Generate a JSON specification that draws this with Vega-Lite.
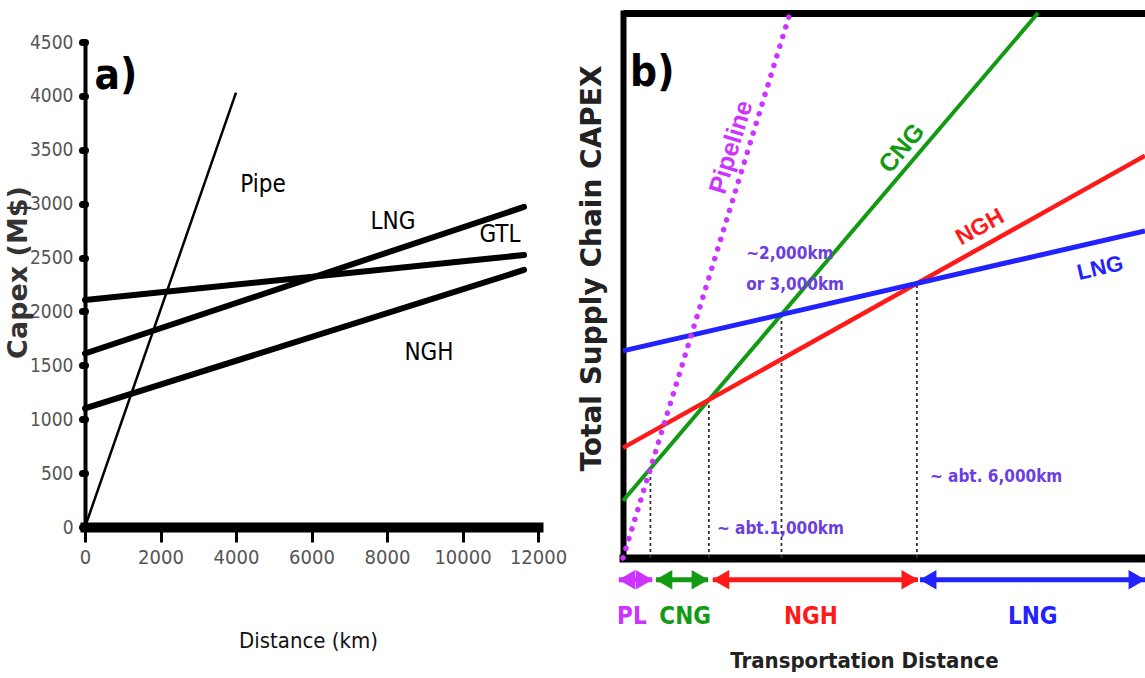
{
  "$schema": "https://vega.github.io/schema/vega-lite/v6.json",
  "width": 1145,
  "height": 678,
  "autosize": "none",
  "padding": 0,
  "background": "white",
  "config": {"view": {"stroke": null}, "axis": {"grid": false}},
  "datasets": {
    "linesA": [
      {"s": "Pipe", "x": 0, "y": 0}, {"s": "Pipe", "x": 4000, "y": 4030},
      {"s": "GTL", "x": 0, "y": 2106}, {"s": "GTL", "x": 11630, "y": 2524},
      {"s": "LNG", "x": 0, "y": 1610}, {"s": "LNG", "x": 11630, "y": 2970},
      {"s": "NGH", "x": 0, "y": 1100}, {"s": "NGH", "x": 11630, "y": 2385}
    ],
    "labelsA": [
      {"t": "Pipe", "x": 4715, "y": 3173},
      {"t": "LNG", "x": 8159, "y": 2830},
      {"t": "GTL", "x": 10993, "y": 2709},
      {"t": "NGH", "x": 9113, "y": 1614}
    ],
    "tagA": [{"t": "a)", "x": 820, "y": 4184}],
    "linesB": [
      {"s": "Pipeline", "x": 0, "y": 0}, {"s": "Pipeline", "x": 32.0, "y": 100},
      {"s": "CNG", "x": 0, "y": 10.5}, {"s": "CNG", "x": 79.5, "y": 100},
      {"s": "NGH", "x": 0, "y": 20.2}, {"s": "NGH", "x": 100, "y": 73.8},
      {"s": "LNG", "x": 0, "y": 38.0}, {"s": "LNG", "x": 100, "y": 60.0}
    ],
    "verticals": [
      {"x": 5.25, "y": 0, "top": 16.4},
      {"x": 16.45, "y": 0, "top": 29.0},
      {"x": 30.36, "y": 0, "top": 44.7},
      {"x": 56.3, "y": 0, "top": 50.4}
    ],
    "arrows": [
      {"s": "PL", "x": -0.8, "xe": 5.6, "y": -4},
      {"s": "CNG", "x": 6.3, "xe": 16.3, "y": -4},
      {"s": "NGH", "x": 17.2, "xe": 56.5, "y": -4},
      {"s": "LNG", "x": 56.9, "xe": 100, "y": -4}
    ],
    "bottomLabels": [
      {"s": "PL", "x": 1.7, "y": -10.8},
      {"s": "CNG", "x": 11.9, "y": -10.8},
      {"s": "NGH", "x": 36.0, "y": -10.8},
      {"s": "LNG", "x": 78.5, "y": -10.8}
    ],
    "notes": [
      {"t": "~2,000km", "x": 23.6, "y": 55.8},
      {"t": "or 3,000km", "x": 23.6, "y": 50.1},
      {"t": "~ abt.1,000km", "x": 18.0, "y": 5.3},
      {"t": "~ abt. 6,000km", "x": 58.8, "y": 14.9}
    ],
    "tagB": [{"t": "b)", "x": 5.6, "y": 89.0}]
  },
  "layer": [
    {
      "encoding": {
        "x": {
          "field": "x", "type": "quantitative",
          "scale": {"domain": [0, 12000], "range": [85, 538], "nice": false, "zero": false},
          "axis": {
            "orient": "bottom", "offset": -151,
            "values": [0, 2000, 4000, 6000, 8000, 10000, 12000], "format": "d",
            "domainWidth": 10, "domainColor": "black", "domainCap": "square",
            "tickColor": "black", "tickWidth": 3, "tickSize": 15,
            "labelFont": "DejaVu Sans Condensed, Liberation Sans Narrow, Liberation Sans, sans-serif", "labelFontSize": 20, "labelColor": "#555",
            "labelPadding": 5, "labelFlush": false, "labelOverlap": false,
            "title": "Distance (km)", "titleFont": "DejaVu Sans Condensed, Liberation Sans Narrow, Liberation Sans, sans-serif", "titleFontSize": 22,
            "titleFontWeight": "normal", "titleColor": "#111",
            "titleX": 308, "titleY": 113, "titleAlign": "center", "titleBaseline": "middle",
            "grid": false
          }
        },
        "y": {
          "field": "y", "type": "quantitative",
          "scale": {"domain": [0, 4500], "range": [527, 42], "nice": false, "zero": false},
          "axis": {
            "orient": "left", "offset": -85,
            "values": [0, 500, 1000, 1500, 2000, 2500, 3000, 3500, 4000, 4500], "format": "d",
            "domainWidth": 4, "domainColor": "black",
            "tickColor": "black", "tickWidth": 7, "tickSize": 3, "tickCap": "round",
            "labelFont": "DejaVu Sans Condensed, Liberation Sans Narrow, Liberation Sans, sans-serif", "labelFontSize": 19, "labelColor": "#555",
            "labelPadding": 9, "labelOverlap": false, "labelFlush": false,
            "title": "Capex (M$)", "titleFont": "DejaVu Sans", "titleFontSize": 27,
            "titleFontWeight": "bold", "titleColor": "#333",
            "titleX": -67, "titleY": 272, "titleAngle": 270, "titleAlign": "center", "titleBaseline": "middle",
            "grid": false
          }
        }
      },
      "layer": [
        {
          "data": {"name": "linesA"},
          "transform": [{"filter": "datum.s !== 'Pipe'"}],
          "mark": {"type": "line", "color": "black", "strokeWidth": 6, "strokeCap": "round"},
          "encoding": {"detail": {"field": "s"}}
        },
        {
          "data": {"name": "linesA"},
          "transform": [{"filter": "datum.s === 'Pipe'"}],
          "mark": {"type": "line", "color": "black", "strokeWidth": 2.5},
          "encoding": {"detail": {"field": "s"}}
        },
        {
          "data": {"name": "labelsA"},
          "mark": {"type": "text", "font": "DejaVu Sans Condensed, Liberation Sans Narrow, Liberation Sans, sans-serif", "fontSize": 24, "color": "black"},
          "encoding": {"text": {"field": "t"}}
        },
        {
          "data": {"name": "tagA"},
          "mark": {"type": "text", "font": "DejaVu Sans Condensed, Liberation Sans Narrow, Liberation Sans, sans-serif", "fontSize": 42, "fontWeight": "bold", "color": "black"},
          "encoding": {"text": {"field": "t"}}
        }
      ]
    },
    {
      "encoding": {
        "x": {
          "field": "x", "type": "quantitative",
          "scale": {"domain": [0, 100], "range": [623, 1145], "nice": false, "zero": false},
          "axis": {
            "orient": "bottom", "offset": -120,
            "domainWidth": 8, "domainColor": "black", "domainCap": "square",
            "ticks": false, "labels": false, "grid": false,
            "title": "Transportation Distance", "titleFont": "DejaVu Sans Condensed, Liberation Sans Narrow, Liberation Sans, sans-serif", "titleFontSize": 22,
            "titleFontWeight": "bold", "titleColor": "#222",
            "titleX": 864, "titleY": 102, "titleAlign": "center", "titleBaseline": "middle"
          }
        },
        "y": {
          "field": "y", "type": "quantitative",
          "scale": {"domain": [0, 100], "range": [558, 13], "nice": false, "zero": false},
          "axis": {
            "orient": "left", "offset": -623,
            "domainWidth": 6, "domainColor": "black", "domainCap": "square",
            "ticks": false, "labels": false,
            "grid": true, "values": [100], "gridColor": "black", "gridWidth": 7, "gridOpacity": 1,
            "title": "Total Supply Chain CAPEX", "titleFont": "DejaVu Sans", "titleFontSize": 28,
            "titleFontWeight": "bold", "titleColor": "#222",
            "titleX": -31, "titleY": 268, "titleAngle": 270, "titleAlign": "center", "titleBaseline": "middle"
          }
        },
        "color": {
          "field": "s", "type": "nominal",
          "scale": {"domain": ["Pipeline", "PL", "CNG", "NGH", "LNG"], "range": ["#cc33ff", "#cc33ff", "#139a13", "#ff1a1a", "#2222ff"]},
          "legend": null
        }
      },
      "layer": [
        {
          "data": {"name": "verticals"},
          "mark": {"type": "rule", "strokeWidth": 1.8, "strokeDash": [3, 3]},
          "encoding": {"y2": {"field": "top"}, "color": {"value": "#333"}}
        },
        {
          "data": {"name": "linesB"},
          "transform": [{"filter": "datum.s !== 'Pipeline'"}],
          "mark": {"type": "line", "strokeCap": "butt"},
          "encoding": {
            "strokeWidth": {"field": "s", "type": "nominal", "scale": {"domain": ["CNG", "NGH", "LNG"], "range": [4, 5, 6]}, "legend": null}
          }
        },
        {
          "data": {"name": "linesB"},
          "transform": [{"filter": "datum.s === 'Pipeline'"}],
          "mark": {"type": "line", "strokeWidth": 5.5, "strokeCap": "round", "strokeDash": [0.1, 10]},
          "encoding": {}
        },
        {
          "data": {"name": "arrows"},
          "mark": {"type": "rule", "strokeWidth": 5},
          "encoding": {"x2": {"field": "xe"}}
        },
        {
          "data": {"name": "arrows"},
          "mark": {"type": "point", "shape": "triangle-left", "filled": true, "opacity": 1, "size": 380, "xOffset": 8},
          "encoding": {}
        },
        {
          "data": {"name": "arrows"},
          "mark": {"type": "point", "shape": "triangle-right", "filled": true, "opacity": 1, "size": 380, "xOffset": -8},
          "encoding": {"x": {"field": "xe", "type": "quantitative"}}
        },
        {
          "data": {"name": "bottomLabels"},
          "mark": {"type": "text", "font": "DejaVu Sans Condensed, Liberation Sans Narrow, Liberation Sans, sans-serif", "fontSize": 24, "fontWeight": "bold"},
          "encoding": {"text": {"field": "s"}}
        },
        {
          "data": {"values": [{"s": "Pipeline", "x": 20.7, "y": 75.4}]},
          "mark": {"type": "text", "font": "Liberation Sans", "fontSize": 25, "fontWeight": "bold", "angle": 287},
          "encoding": {"text": {"field": "s"}}
        },
        {
          "data": {"values": [{"s": "CNG", "x": 53.4, "y": 75.2}]},
          "mark": {"type": "text", "font": "Liberation Sans", "fontSize": 25, "fontWeight": "bold", "angle": 310},
          "encoding": {"text": {"field": "s"}}
        },
        {
          "data": {"values": [{"s": "NGH", "x": 68.4, "y": 60.7}]},
          "mark": {"type": "text", "font": "Liberation Sans", "fontSize": 23, "fontWeight": "bold", "angle": 331},
          "encoding": {"text": {"field": "s"}}
        },
        {
          "data": {"values": [{"s": "LNG", "x": 91.4, "y": 53.2}]},
          "mark": {"type": "text", "font": "Liberation Sans", "fontSize": 22, "fontWeight": "bold", "angle": 347},
          "encoding": {"text": {"field": "s"}}
        },
        {
          "data": {"name": "notes"},
          "mark": {"type": "text", "font": "DejaVu Sans Condensed, Liberation Sans Narrow, Liberation Sans, sans-serif", "fontSize": 17, "fontWeight": "bold", "align": "left"},
          "encoding": {"text": {"field": "t"}, "color": {"value": "#6a3ee0"}}
        },
        {
          "data": {"name": "tagB"},
          "mark": {"type": "text", "font": "DejaVu Sans Condensed, Liberation Sans Narrow, Liberation Sans, sans-serif", "fontSize": 42, "fontWeight": "bold"},
          "encoding": {"text": {"field": "t"}, "color": {"value": "black"}}
        }
      ]
    }
  ],
  "resolve": {
    "scale": {"x": "independent", "y": "independent"},
    "axis": {"x": "independent", "y": "independent"}
  }
}
